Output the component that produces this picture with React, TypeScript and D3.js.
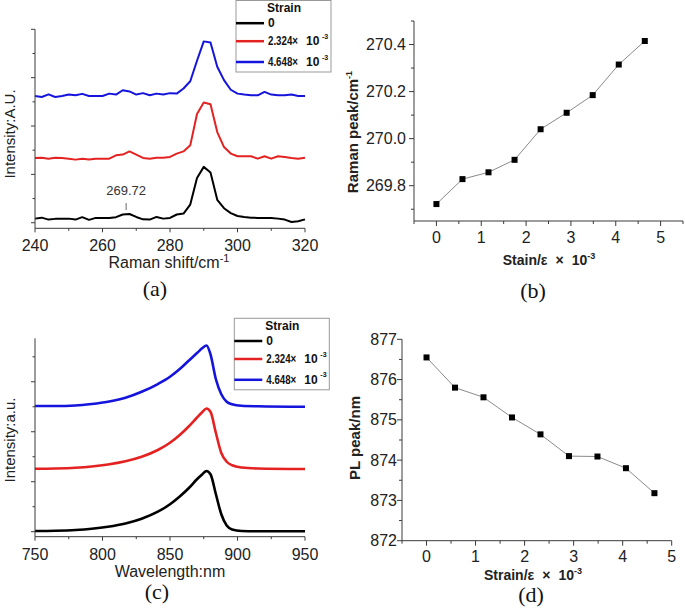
import React from "react";
import * as d3 from "d3";

// ---------- DATA ----------
const ramanShift = [240, 242, 244, 246, 248, 250, 252, 254, 256, 258, 260, 262, 264, 266, 268, 270, 272, 274, 276, 278, 280, 282, 284, 286, 288, 290, 292, 294, 296, 298, 300, 302, 304, 306, 308, 310, 312, 314, 316, 318, 320];
const ramanStrain0 = [0.17, 0.21, 0.13, 0.16, 0.17, 0.17, 0.13, 0.23, 0.12, 0.2, 0.2, 0.2, 0.23, 0.34, 0.36, 0.24, 0.14, 0.13, 0.24, 0.17, 0.2, 0.34, 0.38, 0.75, 1.85, 2.31, 2.08, 0.95, 0.6, 0.4, 0.28, 0.24, 0.21, 0.2, 0.2, 0.2, 0.17, 0.13, 0.03, 0.06, 0.14];
const ramanStrain2324 = [2.68, 2.69, 2.65, 2.69, 2.68, 2.65, 2.61, 2.65, 2.62, 2.65, 2.65, 2.65, 2.79, 2.82, 2.95, 2.82, 2.68, 2.65, 2.69, 2.69, 2.72, 2.86, 2.95, 3.2, 4.5, 4.97, 4.9, 3.75, 3.13, 2.86, 2.75, 2.75, 2.75, 2.65, 2.75, 2.65, 2.75, 2.72, 2.68, 2.65, 2.69];
const ramanStrain4648 = [5.24, 5.2, 5.31, 5.2, 5.24, 5.3, 5.27, 5.33, 5.24, 5.24, 5.24, 5.34, 5.3, 5.48, 5.43, 5.3, 5.36, 5.27, 5.34, 5.3, 5.36, 5.34, 5.55, 5.85, 6.7, 7.5, 7.45, 6.45, 5.9, 5.5, 5.34, 5.3, 5.27, 5.27, 5.41, 5.3, 5.27, 5.27, 5.3, 5.24, 5.24];

const plWavelength = [750, 765, 780, 792, 804, 817, 829, 841, 850, 857, 864, 870, 874, 877, 880, 884, 888, 892, 896, 903, 915, 950];
const plStrain0 = [0.03, 0.04, 0.07, 0.12, 0.2, 0.33, 0.52, 0.8, 1.1, 1.4, 1.75, 2.1, 2.3, 2.43, 2.3, 1.5, 0.7, 0.25, 0.09, 0.03, 0.02, 0.02];
const plStrain2324 = [2.52, 2.53, 2.56, 2.61, 2.69, 2.82, 3.0, 3.27, 3.56, 3.86, 4.22, 4.57, 4.79, 4.93, 4.8, 3.95, 3.15, 2.8, 2.66, 2.57, 2.53, 2.51];
const plStrain4648 = [5.03, 5.03, 5.05, 5.11, 5.2, 5.36, 5.6, 5.91, 6.2, 6.5, 6.85, 7.15, 7.35, 7.45, 7.1, 6.1, 5.5, 5.2, 5.1, 5.04, 5.02, 5.0];

const strainValues = [0, 0.581, 1.162, 1.743, 2.324, 2.905, 3.486, 4.067, 4.648];
const ramanPeak = [269.722, 269.828, 269.857, 269.91, 270.04, 270.11, 270.185, 270.315, 270.415];
const plPeak = [876.55, 875.8, 875.56, 875.06, 874.64, 874.1, 874.09, 873.8, 873.18];

const legendLabels = ["0", "2.324×", "4.648×"];
const seriesColors = ["#000000", "#e52222", "#1414dc"];

const ramanXTicks = [240, 260, 280, 300, 320];
const plXTicks = [750, 800, 850, 900, 950];
const ramanPeakTicks = [269.8, 270.0, 270.2, 270.4];
const plPeakTicks = [872, 873, 874, 875, 876, 877];
const strainTicks = [0, 1, 2, 3, 4, 5];

// ---------- STYLE ----------
const SANS = "Arial, 'Liberation Sans', sans-serif";
const SERIF = "'Times New Roman', 'Liberation Serif', serif";
const AXIS = "#3a3a3a";

function Spectra({ xs, series, xScale, yScale, xTicks, xMinor, yMajor, yMinor, width, curve }) {
  const line = (vals) =>
    d3.line<number>()
      .x((_, i) => xScale(xs[i]))
      .y((v) => yScale(v))
      .curve(curve)(vals);
  const [x0, x1] = xScale.range();
  const [yb, yt] = yScale.range();
  return (
    <g>
      {series.map((s, i) => (
        <path key={i} d={line(s) || ""} fill="none" stroke={seriesColors[i]} strokeWidth={width} strokeLinejoin="round" />
      ))}
      <line x1={x0} x2={x0} y1={yb} y2={yt} stroke={AXIS} strokeWidth={1} />
      <line x1={x0} x2={x1} y1={yb} y2={yb} stroke={AXIS} strokeWidth={1} />
      {yMajor.map((v) => (
        <line key={"ym" + v} x1={x0 - 4} x2={x0} y1={yScale(v)} y2={yScale(v)} stroke={AXIS} />
      ))}
      {yMinor.map((v) => (
        <line key={"yn" + v} x1={x0 - 2.5} x2={x0} y1={yScale(v)} y2={yScale(v)} stroke={AXIS} />
      ))}
      {xTicks.map((v) => (
        <g key={"xt" + v}>
          <line x1={xScale(v)} x2={xScale(v)} y1={yb} y2={yb + 4} stroke={AXIS} />
          <text x={xScale(v)} y={yb + 17.5} fontSize={16} fontFamily={SANS} textAnchor="middle" dominantBaseline="central" fill="#222">{v}</text>
        </g>
      ))}
      {xMinor.map((v) => (
        <line key={"xn" + v} x1={xScale(v)} x2={xScale(v)} y1={yb} y2={yb + 2.5} stroke={AXIS} />
      ))}
    </g>
  );
}

function Legend({ x, y }) {
  const rows = [22.7, 40.7, 61.5];
  return (
    <g fontFamily={SANS} fontWeight="bold" fill="#111">
      <rect x={x} y={y} width={95} height={71.5} fill="#fff" stroke="#999" strokeWidth={1} />
      <text x={x + 48} y={y + 7.5} fontSize={12} textAnchor="middle" dominantBaseline="central">Strain</text>
      {legendLabels.map((lab, i) => (
        <g key={i}>
          <line x1={x} x2={x + 28} y1={y + rows[i]} y2={y + rows[i]} stroke={seriesColors[i]} strokeWidth={2.5} />
          {i === 0 ? (
            <text x={x + 32} y={y + rows[i]} fontSize={12} dominantBaseline="central">{lab}</text>
          ) : (
            <g>
              <text x={x + 32} y={y + rows[i]} fontSize={12} dominantBaseline="central" textLength={30} lengthAdjust="spacingAndGlyphs">{lab}</text>
              <text x={x + 70} y={y + rows[i]} fontSize={12} dominantBaseline="central">10</text>
              <text x={x + 86} y={y + rows[i] - 5} fontSize={7} dominantBaseline="central">-3</text>
            </g>
          )}
        </g>
      ))}
    </g>
  );
}

function PeakPlot({ xs, ys, xScale, yScale, yTicks, yMinor, xMinor, labelGap, fmt }) {
  const [x0, x1] = xScale.range();
  const [yb, yt] = yScale.range();
  const path = d3.line<number>().x((_, i) => xScale(xs[i])).y((v) => yScale(v))(ys) || "";
  return (
    <g>
      <line x1={x0} x2={x0} y1={yb} y2={yt} stroke={AXIS} />
      <line x1={x0} x2={x1} y1={yb} y2={yb} stroke={AXIS} />
      {yTicks.map((v) => (
        <g key={"y" + v}>
          <line x1={x0 - 5} x2={x0} y1={yScale(v)} y2={yScale(v)} stroke={AXIS} />
          <text x={x0 - labelGap} y={yScale(v)} fontSize={16} fontFamily={SANS} textAnchor="end" dominantBaseline="central" fill="#222">{fmt(v)}</text>
        </g>
      ))}
      {yMinor.map((v) => (
        <line key={"yn" + v} x1={x0 - 3} x2={x0} y1={yScale(v)} y2={yScale(v)} stroke={AXIS} />
      ))}
      {strainTicks.map((v) => (
        <g key={"x" + v}>
          <line x1={xScale(v)} x2={xScale(v)} y1={yb} y2={yb + 5} stroke={AXIS} />
          <text x={xScale(v)} y={yb + 16} fontSize={16} fontFamily={SANS} textAnchor="middle" dominantBaseline="central" fill="#222">{v}</text>
        </g>
      ))}
      {xMinor.map((v) => (
        <line key={"xn" + v} x1={xScale(v)} x2={xScale(v)} y1={yb} y2={yb + 3} stroke={AXIS} />
      ))}
      <path d={path} fill="none" stroke="#8a8a8a" strokeWidth={1} />
      {xs.map((x, i) => (
        <rect key={i} x={xScale(x) - 3} y={yScale(ys[i]) - 3} width={6} height={6} fill="#000" />
      ))}
    </g>
  );
}

export default function App() {
  const xA = d3.scaleLinear().domain([240, 320]).range([35, 305]);
  const yA = d3.scaleLinear().domain([-0.23, 8]).range([228.3, 29.3]);
  const xC = d3.scaleLinear().domain([750, 950]).range([35, 305]);
  const yC = d3.scaleLinear().domain([-0.2, 7.74]).range([536.7, 338.3]);
  const xB = d3.scaleLinear().domain([-0.5, 5.5]).range([414, 683]);
  const yB = d3.scaleLinear().domain([269.65, 270.5]).range([221, 21]);
  const xD = d3.scaleLinear().domain([-0.5, 5]).range([402, 671.7]);
  const yD = d3.scaleLinear().domain([872, 877]).range([540.7, 339.3]);

  const annX = 267;
  const annY = yA(0.36);

  return (
    <svg width={685} height={613} style={{ position: "absolute", left: 0, top: 0 }} xmlns="http://www.w3.org/2000/svg">
      <rect width={685} height={613} fill="#fff" />

      {/* (a) */}
      <Spectra xs={ramanShift} series={[ramanStrain0, ramanStrain2324, ramanStrain4648]} xScale={xA} yScale={yA}
        xTicks={ramanXTicks} xMinor={[250, 270, 290, 310]} yMajor={[0, 2, 4, 6, 8]} yMinor={[1, 3, 5, 7]} width={2}
        curve={d3.curveLinear} />
      <line x1={xA(annX)} x2={xA(annX)} y1={annY - 11} y2={annY - 4} stroke="#444" strokeWidth={0.8} />
      <text x={xA(annX)} y={annY - 24} fontSize={13} fontFamily={SANS} textAnchor="middle" dominantBaseline="central" fill="#333">269.72</text>
      <Legend x={236} y={0.5} />
      <text x={169} y={268} fontSize={16} fontFamily={SANS} textAnchor="middle" fill="#222">
        Raman shift/cm<tspan fontSize={11} dy={-6}>-1</tspan>
      </text>
      <text transform="translate(14.5,134) rotate(-90)" fontSize={15} fontFamily={SANS} textAnchor="middle" fill="#222">Intensity:A.U.</text>
      <text x={155} y={296} fontSize={22} fontFamily={SERIF} textAnchor="middle" fill="#111">(a)</text>

      {/* (b) */}
      <PeakPlot xs={strainValues} ys={ramanPeak} xScale={xB} yScale={yB} yTicks={ramanPeakTicks}
        yMinor={[269.7, 269.9, 270.1, 270.3, 270.5]} xMinor={[-0.5, 0.5, 1.5, 2.5, 3.5, 4.5, 5.5]} labelGap={8}
        fmt={(v) => v.toFixed(1)} />
      <text transform="translate(358,132) rotate(-90)" fontSize={15} fontWeight="bold" fontFamily={SANS} textAnchor="middle" fill="#222">
        Raman peak/cm<tspan fontSize={9} dy={-6}>-1</tspan>
      </text>
      <text x={549} y={265} fontSize={14} fontWeight="bold" fontFamily={SANS} textAnchor="middle" fill="#222">
        Stain/ε<tspan dx={8}>×</tspan><tspan dx={8}>10</tspan><tspan fontSize={9} dy={-6}>-3</tspan>
      </text>
      <text x={533} y={298} fontSize={22} fontFamily={SERIF} textAnchor="middle" fill="#111">(b)</text>

      {/* (c) */}
      <Spectra xs={plWavelength} series={[plStrain0, plStrain2324, plStrain4648]} xScale={xC} yScale={yC}
        xTicks={plXTicks} xMinor={[775, 825, 875, 925]} yMajor={[0, 2, 4, 6]} yMinor={[1, 3, 5, 7]} width={2.6}
        curve={d3.curveMonotoneX} />
      <Legend x={234.3} y={318.3} />
      <text x={170} y={577} fontSize={16} fontFamily={SANS} textAnchor="middle" fill="#222">Wavelength:nm</text>
      <text transform="translate(14.5,440) rotate(-90)" fontSize={15} fontFamily={SANS} textAnchor="middle" fill="#222">Intensity:a.u.</text>
      <text x={157} y={599} fontSize={22} fontFamily={SERIF} textAnchor="middle" fill="#111">(c)</text>

      {/* (d) */}
      <PeakPlot xs={strainValues} ys={plPeak} xScale={xD} yScale={yD} yTicks={plPeakTicks}
        yMinor={[872.5, 873.5, 874.5, 875.5, 876.5]} xMinor={[-0.5, 0.5, 1.5, 2.5, 3.5, 4.5]} labelGap={5}
        fmt={(v) => String(v)} />
      <text transform="translate(360,438) rotate(-90)" fontSize={15} fontWeight="bold" fontFamily={SANS} textAnchor="middle" fill="#222">PL peak/nm</text>
      <text x={533} y={580} fontSize={14} fontWeight="bold" fontFamily={SANS} textAnchor="middle" fill="#222">
        Strain/ε<tspan dx={8}>×</tspan><tspan dx={8}>10</tspan><tspan fontSize={9} dy={-6}>-3</tspan>
      </text>
      <text x={531} y={602} fontSize={22} fontFamily={SERIF} textAnchor="middle" fill="#111">(d)</text>
    </svg>
  );
}
